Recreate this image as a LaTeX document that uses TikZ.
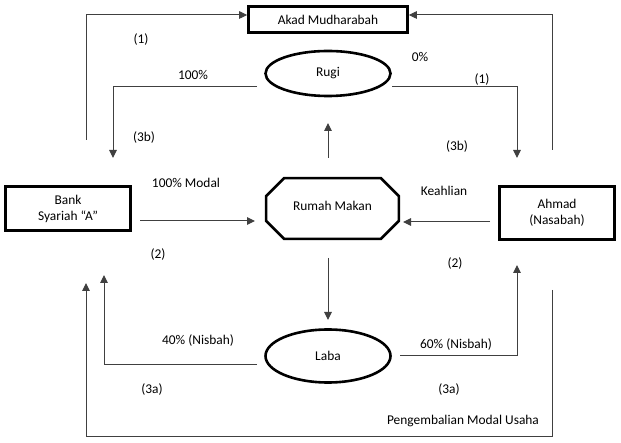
\documentclass[tikz,border=0pt]{standalone}
\usepackage{fontspec}
\setmainfont{Carlito}
\usetikzlibrary{arrows.meta,calc,shapes.geometric}
\begin{document}
\begin{tikzpicture}[x=1pt,y=-1pt,
  txt/.style={font=\fontsize{13.4}{16}\selectfont},
  box/.style={txt,draw=black,line width=2.6pt,rectangle,align=center,inner sep=0pt},
  oval/.style={txt,draw=black,line width=2.6pt,ellipse,inner sep=0pt,minimum width=125},
  lbl/.style={txt,inner sep=0pt},
  conn/.style={draw=black!75,line width=1pt},
  arr/.style={conn,-{Triangle[length=8pt,width=7.5pt]}}]
\useasboundingbox (0,0) rectangle (621,443);

% nodes
\node[box,minimum width=159,minimum height=26.5] (akad) at (328,19.5) {Akad Mudharabah};
\node[oval,minimum height=45] (rugi) at (328,73.5) {Rugi};
\node[oval,minimum height=53] (laba) at (328,356) {Laba};
\node[box,minimum width=125,minimum height=44] (bank) at (68,208.5) {Bank\\Syariah “A”};
\node[box,minimum width=115,minimum height=53] (ahmad) at (557,213) {Ahmad\\(Nasabah)};
\node[txt,inner sep=0pt,minimum width=132.4,minimum height=60.4] (rm) at (332.5,208.5) {\raisebox{5pt}{Rumah Makan}};
\draw[line width=2.6pt,line join=miter]
  ($(rm.north west)+(18,0)$) -- ($(rm.north east)+(-18,0)$) -- ($(rm.north east)+(0,18)$)
  -- ($(rm.south east)+(0,-18)$) -- ($(rm.south east)+(-18,0)$) -- ($(rm.south west)+(18,0)$)
  -- ($(rm.south west)+(0,-18)$) -- ($(rm.north west)+(0,18)$) -- cycle;

% labels
\node[lbl] (l1a) at (141,40) {(1)};
\node[lbl] (l100) at (193,75) {100\%};
\node[lbl] (l3bl) at (144,138) {(3b)};
\node[lbl] (lmodal) at (186,183) {100\% Modal};
\node[lbl] (l0) at (420,57) {0\%};
\node[lbl] (l1b) at (482,80) {(1)};
\node[lbl] (l3br) at (457,147) {(3b)};
\node[lbl] (lkeah) at (444,191) {Keahlian};
\node[lbl] (l2l) at (158,255) {(2)};
\node[lbl] (l40) at (198,341) {40\% (Nisbah)};
\node[lbl] (l3al) at (152,390) {(3a)};
\node[lbl] (l2r) at (455,264) {(2)};
\node[lbl] (l60) at (456,345) {60\% (Nisbah)};
\node[lbl] (l3ar) at (449,390) {(3a)};
\node[lbl] (lpeng) at (463,421) {Pengembalian Modal Usaha};

% coordinates for free ends
\coordinate (c1) at (86,140);
\coordinate (c2) at (552,150);
\coordinate (c3s) at (257,87);
\coordinate (c3e) at (113,158);
\coordinate (c4s) at (392,87);
\coordinate (c4e) at (517,158);
\coordinate (c5s) at (328,158);
\coordinate (c5e) at (328,123);
\coordinate (c6s) at (140,221);
\coordinate (c6e) at (255,221);
\coordinate (c7s) at (490,222);
\coordinate (c7e) at (403,222);
\coordinate (c8s) at (328,258);
\coordinate (c8e) at (328,320);
\coordinate (c9s) at (257,365);
\coordinate (c9e) at (104,275);
\coordinate (c10s) at (400,356);
\coordinate (c10e) at (517,265);
\coordinate (c11s) at (552,290);
\coordinate (c11b) at (552,436);
\coordinate (c11e) at (86,283);

% connectors
\draw[arr] (c1) |- ([yshift=4.5pt]akad.west);
\draw[arr] (c2) |- ([yshift=4.5pt]akad.east);
\draw[arr] (c3s) -| (c3e);
\draw[arr] (c4s) -| (c4e);
\draw[arr] (c5s) -- (c5e);
\draw[arr] (c6s) -- (c6e);
\draw[arr] (c7s) -- (c7e);
\draw[arr] (c8s) -- (c8e);
\draw[arr] (c9s) -| (c9e);
\draw[arr] (c10s) -| (c10e);
\draw[arr] (c11s) -- (c11b) -| (c11e);
\end{tikzpicture}
\end{document}
